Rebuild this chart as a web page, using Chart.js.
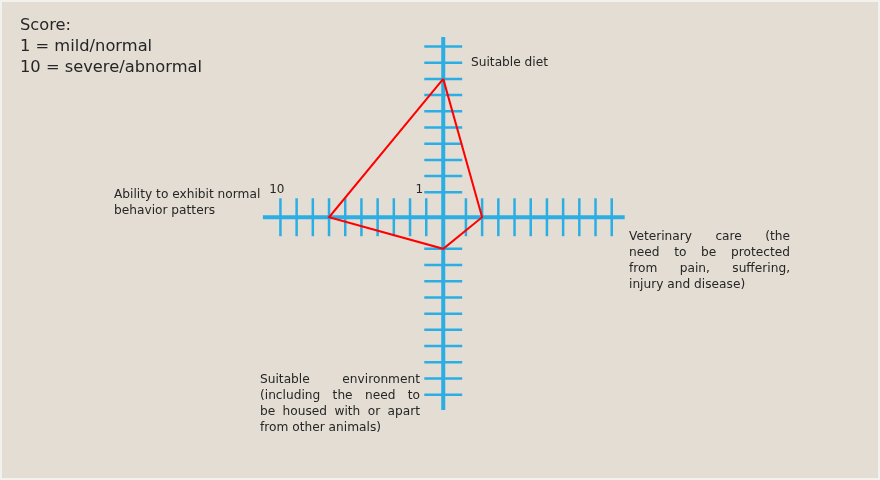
<!DOCTYPE html>
<html>
<head>
<meta charset="utf-8">
<script src="https://cdn.jsdelivr.net/npm/chart.js@4"></script>
<style>
  html, body { margin: 0; padding: 0; background: #f3f1ec; }
  #wrap { position: relative; width: 876px; height: 476px; margin: 2px; background: #e3ddd3; overflow: hidden; }
  #wrap canvas { position: absolute; left: -2px; top: -2px; }
  .lbl { position: absolute; font-family: "DejaVu Sans", sans-serif; font-size: 12.2px; color: #262626; line-height: 16px; }
  .just span { display: block; text-align: justify; text-align-last: justify; white-space: nowrap; }
  .just span.akhir { text-align-last: left; }
  #score { left: 18px; top: 12px; font-size: 16.3px; line-height: 21px; }
</style>
</head>
<body>
<div id="wrap">
  <canvas id="chartSkor" width="880" height="480"></canvas>
  <div class="lbl" id="score">Score:<br>1 = mild/normal<br>10 = severe/abnormal</div>
  <div class="lbl" id="lbl0" style="left:469px; top:52px;">Suitable diet</div>
  <div class="lbl just" id="lbl1" style="left:627px; top:226px; width:161px;">
    <span>Veterinary care (the</span><span>need to be protected</span><span>from pain, suffering,</span><span class="akhir">injury and disease)</span>
  </div>
  <div class="lbl just" id="lbl2" style="left:258px; top:369px; width:160px;">
    <span>Suitable environment</span><span>(including the need to</span><span>be housed with or apart</span><span class="akhir">from other animals)</span>
  </div>
  <div class="lbl" id="lbl3" style="left:112px; top:184px; width:160px;">Ability to exhibit normal behavior patters</div>
</div>
<script>
// Data skor (atas, kanan, bawah, kiri)
const kategori = ['Suitable diet', 'Veterinary care', 'Suitable environment', 'Ability to exhibit normal behavior patters'];
const skor = [8, 2, 1, 7];
const tickSkor = [1, 2, 3, 4, 5, 6, 7, 8, 9, 10];
const tickLabel = ['1', '10'];

// arah tiap sumbu + geser dari pusat (satuan skor)
const arah = [[0, 1], [1, 0], [0, -1], [-1, 0]];
const geser = [0.54, 0.4, 0.95, 0.05];
const panjang = [11.13, 11.2, 11.9, 11.13];
const BIRU = '#2aaee3';

function titik(i, v) {
  return { x: arah[i][0] * (v + geser[i]), y: arah[i][1] * (v + geser[i]) };
}

const polyData = skor.map((s, i) => titik(i, s));
polyData.push(polyData[0]);

// plugin gambar salib + tick
const salibPlugin = {
  id: 'salib',
  beforeDatasetsDraw(chart) {
    const { ctx, scales: { x, y } } = chart;
    const px = v => x.getPixelForValue(v);
    const py = v => y.getPixelForValue(v);
    const half = 1.17;
    ctx.save();
    ctx.strokeStyle = BIRU;
    ctx.lineCap = 'butt';
    // ticks
    ctx.lineWidth = 2.5;
    arah.forEach((d, i) => {
      tickSkor.forEach(t => {
        const p = titik(i, t);
        ctx.beginPath();
        if (d[0] === 0) {
          ctx.moveTo(px(-half), py(p.y));
          ctx.lineTo(px(half), py(p.y));
        } else {
          ctx.moveTo(px(p.x), py(half));
          ctx.lineTo(px(p.x), py(-half));
        }
        ctx.stroke();
      });
    });
    // garis utama
    ctx.lineWidth = 4;
    ctx.beginPath();
    ctx.moveTo(px(0), py(panjang[0]));
    ctx.lineTo(px(0), py(-panjang[2]));
    ctx.moveTo(px(-panjang[3]), py(0));
    ctx.lineTo(px(panjang[1]), py(0));
    ctx.stroke();
    // label 1 dan 10 di sumbu kiri
    ctx.fillStyle = '#262626';
    ctx.font = '12px "DejaVu Sans"';
    ctx.textAlign = 'right';
    ctx.textBaseline = 'middle';
    const t1 = titik(3, 1), t10 = titik(3, 10);
    ctx.fillText(tickLabel[0], px(t1.x) - 3, py(1.7));
    ctx.fillText(tickLabel[1], px(t10.x) + 4, py(1.7));
    ctx.restore();
  }
};

const ctx = document.getElementById('chartSkor').getContext('2d');
const chart = new Chart(ctx, {
  type: 'scatter',
  data: {
    datasets: [{
      label: 'Score',
      data: polyData,
      showLine: true,
      borderColor: '#ff0000',
      borderWidth: 2,
      pointRadius: 0,
      fill: false,
      tension: 0
    }]
  },
  options: {
    responsive: false,
    animation: false,
    layout: { padding: 0 },
    plugins: { legend: { display: false }, tooltip: { enabled: false } },
    scales: {
      x: { type: 'linear', display: false, min: -27.36, max: 26.96 },
      y: { type: 'linear', display: false, min: -16.22, max: 13.41 }
    }
  },
  plugins: [salibPlugin]
});
</script>
</body>
</html>
